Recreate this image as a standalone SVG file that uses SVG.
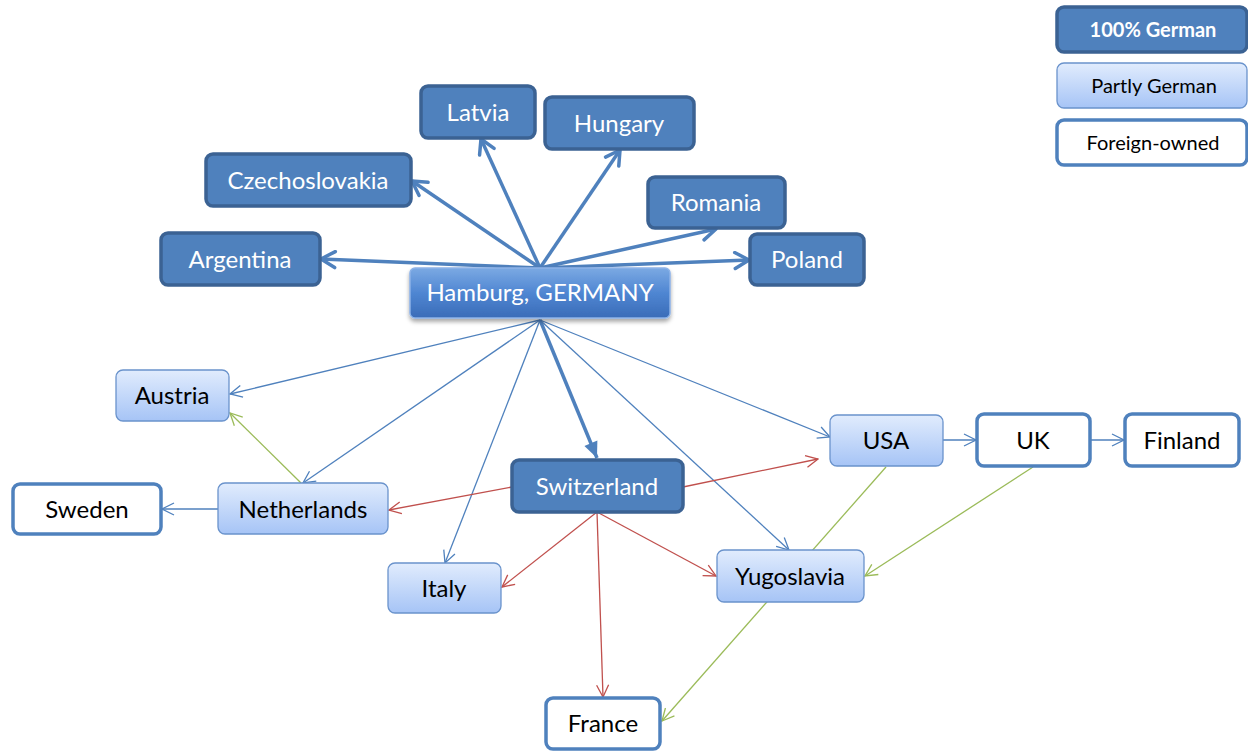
<svg xmlns="http://www.w3.org/2000/svg" width="1248" height="751" viewBox="0 0 1248 751">
<defs>
<linearGradient id="gPart" x1="0" y1="0" x2="0" y2="1">
<stop offset="0" stop-color="#E1ECFD"/>
<stop offset="1" stop-color="#A6C4F6"/>
</linearGradient>
<linearGradient id="gHub" x1="0" y1="0" x2="0" y2="1">
<stop offset="0" stop-color="#7BA9E3"/>
<stop offset="0.5" stop-color="#4F86D2"/>
<stop offset="1" stop-color="#3A6CB8"/>
</linearGradient>
<filter id="sh" x="-10%" y="-20%" width="120%" height="150%">
<feDropShadow dx="0" dy="3" stdDeviation="2" flood-color="#000" flood-opacity="0.35"/>
</filter>
<marker id="aThick" viewBox="0 0 20 20" refX="17" refY="10" markerWidth="20" markerHeight="20" markerUnits="userSpaceOnUse" orient="auto">
<path d="M3,2 L17,10 L3,18" fill="none" stroke="#4F81BD" stroke-width="3.5" stroke-linecap="round" stroke-linejoin="round"/>
</marker>
<marker id="aFill" viewBox="0 0 20 20" refX="18" refY="10" markerWidth="20" markerHeight="20" markerUnits="userSpaceOnUse" orient="auto">
<path d="M2,3 L18,10 L2,17 Z" fill="#4F81BD"/>
</marker>
<marker id="aBlue" viewBox="0 0 14 14" refX="13" refY="7" markerWidth="14" markerHeight="14" markerUnits="userSpaceOnUse" orient="auto">
<path d="M1,1 L13,7 L1,13" fill="none" stroke="#4F81BD" stroke-width="1.3"/>
</marker>
<marker id="aRed" viewBox="0 0 14 14" refX="13" refY="7" markerWidth="14" markerHeight="14" markerUnits="userSpaceOnUse" orient="auto">
<path d="M1,1 L13,7 L1,13" fill="none" stroke="#C0504D" stroke-width="1.3"/>
</marker>
<marker id="aGreen" viewBox="0 0 14 14" refX="13" refY="7" markerWidth="14" markerHeight="14" markerUnits="userSpaceOnUse" orient="auto">
<path d="M1,1 L13,7 L1,13" fill="none" stroke="#9BBB59" stroke-width="1.3"/>
</marker>
</defs>
<style>
.full{fill:#4F81BD;stroke:#3B6293;stroke-width:3.5}
.part{fill:url(#gPart);stroke:#6A93CC;stroke-width:1.3}
.foreign{fill:#FFFFFF;stroke:#4F81BD;stroke-width:3.5}
.hub{fill:url(#gHub);stroke:#8DB3E8;stroke-width:1.5}
text{font-family:Lato,"Open Sans","Liberation Sans",sans-serif;font-size:24px;text-anchor:middle;dominant-baseline:central}
.tw{fill:#FFFFFF}
.tb{fill:#000000}
.lg{font-size:20px}
.thick{stroke:#4F81BD;stroke-width:3.5;fill:none;marker-end:url(#aThick)}
.blue{stroke:#4F81BD;stroke-width:1.3;fill:none;marker-end:url(#aBlue)}
.red{stroke:#C0504D;stroke-width:1.3;fill:none;marker-end:url(#aRed)}
.green{stroke:#9BBB59;stroke-width:1.3;fill:none;marker-end:url(#aGreen)}
</style>
<rect width="1248" height="751" fill="#FFFFFF"/>
<g id="connectors">
<line class="green" x1="886" y1="467" x2="662" y2="721"/>
<line class="green" x1="1033" y1="467" x2="865" y2="576"/>
<line class="green" x1="301" y1="483" x2="230" y2="413"/>
<line class="thick" x1="540" y1="268" x2="481" y2="139"/>
<line class="thick" x1="540" y1="268" x2="620" y2="150"/>
<line class="thick" x1="540" y1="268" x2="412" y2="181"/>
<line class="thick" x1="540" y1="268" x2="716" y2="229"/>
<line class="thick" x1="540" y1="268" x2="321" y2="259"/>
<line class="thick" x1="540" y1="268" x2="749" y2="260"/>
<line stroke="#4F81BD" stroke-width="3.5" marker-end="url(#aFill)" x1="540" y1="320" x2="597" y2="458"/>
<line class="blue" x1="540" y1="320" x2="230" y2="394"/>
<line class="blue" x1="540" y1="320" x2="303" y2="483"/>
<line class="blue" x1="540" y1="320" x2="445" y2="563"/>
<line class="blue" x1="540" y1="320" x2="830" y2="437"/>
<line class="blue" x1="540" y1="320" x2="789" y2="550"/>
<line class="blue" x1="943" y1="440" x2="976" y2="440"/>
<line class="blue" x1="1090" y1="440" x2="1124" y2="440"/>
<line class="blue" x1="218" y1="509" x2="162" y2="509"/>
<line class="red" x1="512" y1="487" x2="389" y2="510"/>
<line class="red" x1="683" y1="487" x2="818" y2="459"/>
<line class="red" x1="597" y1="512" x2="502" y2="587"/>
<line class="red" x1="597" y1="512" x2="716" y2="576"/>
<line class="red" x1="597" y1="512" x2="603" y2="697"/>
</g>
<g id="legend-full"><rect class="full" x="1057" y="7" width="190" height="45" rx="7"/><text class="tw lg" x="1153" y="29" style="font-weight:bold">100% German</text></g>
<g id="legend-part"><rect class="part" x="1057" y="63" width="190" height="45" rx="7"/><text class="tb lg" x="1154" y="85">Partly German</text></g>
<g id="legend-foreign"><rect class="foreign" x="1057" y="120" width="190" height="45" rx="7"/><text class="tb lg" x="1153" y="142">Foreign-owned</text></g>
<g id="latvia"><rect class="full" x="421" y="86" width="114" height="52" rx="7"/><text class="tw" x="478" y="111">Latvia</text></g>
<g id="hungary"><rect class="full" x="545" y="97" width="149" height="52" rx="7"/><text class="tw" x="619" y="122">Hungary</text></g>
<g id="czechoslovakia"><rect class="full" x="206" y="154" width="205" height="52" rx="7"/><text class="tw" x="308" y="179">Czechoslovakia</text></g>
<g id="romania"><rect class="full" x="648" y="177" width="137" height="51" rx="7"/><text class="tw" x="716" y="201">Romania</text></g>
<g id="argentina"><rect class="full" x="161" y="233" width="159" height="52" rx="7"/><text class="tw" x="240" y="258">Argentina</text></g>
<g id="poland"><rect class="full" x="750" y="234" width="114" height="51" rx="7"/><text class="tw" x="807" y="258">Poland</text></g>
<g id="hamburg"><rect class="hub" x="410" y="268" width="260" height="50" rx="5" filter="url(#sh)"/><text class="tw" x="540" y="291">Hamburg, GERMANY</text></g>
<g id="switzerland"><rect class="full" x="512" y="460" width="171" height="52" rx="7"/><text class="tw" x="597" y="485">Switzerland</text></g>
<g id="austria"><rect class="part" x="116" y="370" width="113" height="51" rx="7"/><text class="tb" x="172" y="394">Austria</text></g>
<g id="netherlands"><rect class="part" x="218" y="483" width="170" height="51" rx="7"/><text class="tb" x="303" y="508">Netherlands</text></g>
<g id="usa"><rect class="part" x="830" y="415" width="113" height="51" rx="7"/><text class="tb" x="886" y="439">USA</text></g>
<g id="italy"><rect class="part" x="388" y="563" width="113" height="50" rx="7"/><text class="tb" x="444" y="587">Italy</text></g>
<g id="yugoslavia"><rect class="part" x="717" y="550" width="147" height="52" rx="7"/><text class="tb" x="790" y="575">Yugoslavia</text></g>
<g id="sweden"><rect class="foreign" x="13" y="484" width="148" height="50" rx="7"/><text class="tb" x="87" y="508">Sweden</text></g>
<g id="uk"><rect class="foreign" x="977" y="414" width="113" height="52" rx="7"/><text class="tb" x="1033" y="439">UK</text></g>
<g id="finland"><rect class="foreign" x="1125" y="414" width="114" height="52" rx="7"/><text class="tb" x="1182" y="439">Finland</text></g>
<g id="france"><rect class="foreign" x="546" y="698" width="114" height="51" rx="7"/><text class="tb" x="603" y="722">France</text></g>
</svg>
